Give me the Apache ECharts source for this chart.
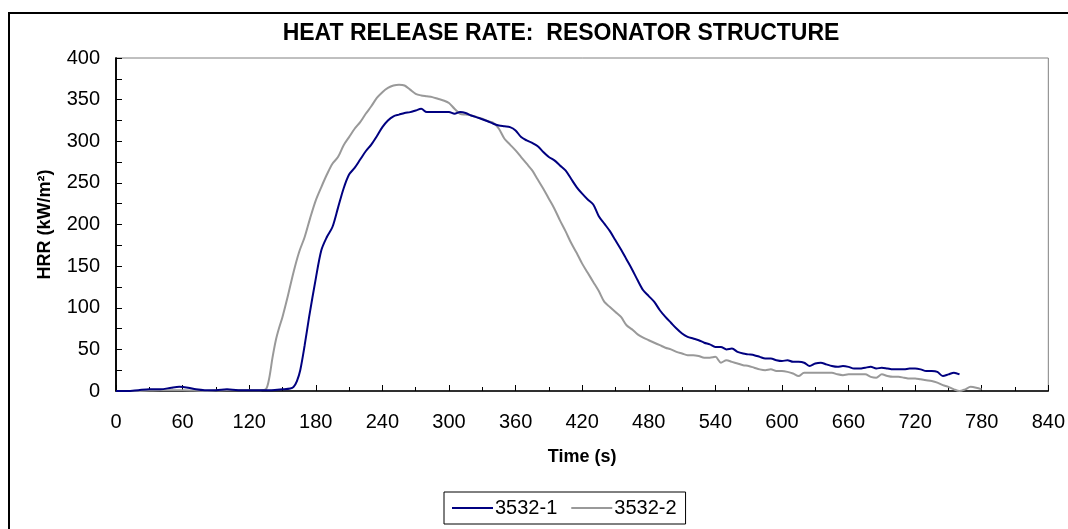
<!DOCTYPE html>
<html>
<head>
<meta charset="utf-8">
<title>Heat Release Rate</title>
<script src="https://cdn.jsdelivr.net/npm/echarts@6/dist/echarts.min.js"></script>
<style>
  html, body { margin: 0; padding: 0; background: #fff; }
  #chart { width: 1068px; height: 529px; }
</style>
</head>
<body>
<div id="chart"></div>
<script>
// Test 3532-1: time (s) and heat release rate (kW/m²)
const time1 = [0, 10, 20, 30, 40, 50, 57, 65, 72, 80, 90, 100, 110, 120, 130, 140, 150, 157, 160, 163, 166, 170, 174, 180, 185, 190, 195, 200, 205, 210, 215, 220, 225, 230, 235, 240, 245, 250, 255, 260, 265, 270, 275, 280, 290, 300, 305, 310, 315, 320, 327, 335, 340, 345, 350, 355, 360, 365, 370, 375, 380, 385, 390, 395, 400, 405, 410, 415, 420, 425, 430, 435, 440, 445, 450, 455, 460, 465, 470, 475, 480, 485, 490, 495, 500, 505, 510, 515, 520, 525, 530, 535, 540, 545, 550, 555, 560, 565, 570, 575, 580, 585, 590, 595, 600, 605, 610, 615, 620, 625, 630, 635, 640, 645, 650, 655, 660, 665, 670, 675, 680, 685, 690, 695, 700, 705, 710, 715, 720, 725, 730, 735, 740, 745, 750, 755, 760];
const hrr1 = [0, 0, 1, 2, 2, 4, 5, 4, 2, 1, 1, 2, 1, 1, 1, 1, 2, 3, 5, 12, 25, 55, 89, 135, 169, 185, 197, 220, 243, 260, 268, 278, 288, 296, 306, 317, 325, 330, 332, 334, 335, 337, 339, 335, 335, 335, 333, 335, 334, 331, 328, 324, 321, 319, 318, 317, 313, 305, 301, 298, 294, 287, 281, 277, 271, 265, 255, 245, 237, 230, 224, 210, 201, 192, 181, 170, 158, 146, 133, 121, 114, 107, 97, 89, 82, 75, 69, 65, 63, 61, 58, 56, 53, 53, 50, 51, 47, 45, 44, 43, 41, 39, 39, 37, 36, 37, 35, 35, 34, 30, 33, 34, 32, 30, 29, 30, 29, 27, 27, 28, 29, 27, 28, 27, 26, 26, 26, 27, 27, 26, 24, 24, 23, 18, 20, 22, 20];

// Test 3532-2
const time2 = [0, 20, 40, 60, 80, 100, 120, 130, 135, 138, 141, 144, 147, 150, 155, 160, 165, 170, 175, 180, 185, 190, 195, 200, 205, 210, 215, 220, 225, 230, 235, 240, 245, 250, 255, 260, 265, 270, 275, 280, 285, 290, 295, 300, 305, 310, 315, 320, 325, 330, 335, 340, 345, 350, 355, 360, 365, 370, 375, 380, 385, 390, 395, 400, 405, 410, 415, 420, 425, 430, 435, 440, 445, 450, 455, 460, 465, 470, 475, 480, 485, 490, 495, 500, 505, 510, 515, 520, 525, 530, 535, 540, 545, 550, 555, 560, 565, 570, 575, 580, 585, 590, 595, 600, 605, 610, 615, 620, 625, 630, 640, 645, 650, 655, 660, 665, 670, 675, 680, 685, 690, 695, 700, 705, 710, 715, 720, 725, 730, 735, 740, 745, 750, 755, 760, 765, 770, 775, 780];
const hrr2 = [0, 0, 1, 1, 0, 1, 1, 1, 2, 15, 40, 61, 76, 89, 115, 143, 167, 185, 208, 229, 245, 260, 273, 281, 295, 305, 315, 323, 333, 342, 352, 359, 364, 367, 368, 367, 362, 357, 355, 354, 353, 351, 349, 346, 339, 333, 332, 331, 329, 327, 324, 322, 315, 303, 296, 289, 281, 273, 265, 254, 243, 231, 219, 205, 192, 178, 166, 153, 142, 131, 120, 107, 101, 95, 89, 79, 74, 68, 64, 61, 58, 55, 52, 50, 47, 45, 43, 43, 42, 40, 40, 41, 34, 37, 35, 33, 31, 30, 28, 26, 25, 26, 24, 24, 23, 21, 18, 22, 22, 22, 22, 22, 20, 19, 20, 20, 20, 20, 17, 16, 20, 18, 17, 17, 16, 15, 15, 14, 13, 12, 10, 7, 5, 2, 0, 2, 5, 4, 2];

const seriesNames = ['3532-1', '3532-2'];
const seriesColors = ['#000080', '#999999'];

const pairs = (xs, ys) => xs.map((x, i) => [x, ys[i]]);

const chart = echarts.init(document.getElementById('chart'), null, { renderer: 'canvas' });

const font = 'Arial, "Liberation Sans", sans-serif';

chart.setOption({
  backgroundColor: '#ffffff',
  animation: false,
  textStyle: { fontFamily: font, color: '#000' },
  title: {
    text: 'HEAT RELEASE RATE:  RESONATOR STRUCTURE',
    left: 561,
    textAlign: 'center',
    top: 22,
    padding: 0,
    textStyle: { fontFamily: font, fontSize: 23, fontWeight: 'bold', color: '#000' }
  },
  legend: {
    data: seriesNames,
    left: 444,
    top: 492,
    padding: [6, 9, 6, 8],
    icon: 'rect',
    itemWidth: 41,
    itemHeight: 2,
    itemGap: 14,
    borderColor: '#000',
    borderWidth: 1,
    textStyle: { fontFamily: font, fontSize: 20, lineHeight: 20, color: '#000', padding: [0, 0, 0, -3] }
  },
  grid: {
    left: 116,
    right: 18,
    top: 58,
    bottom: 138,
    show: true,
    borderColor: '#808080',
    borderWidth: 1,
    backgroundColor: '#ffffff'
  },
  xAxis: {
    type: 'value',
    min: 0,
    max: 840,
    interval: 60,
    name: 'Time (s)',
    nameLocation: 'middle',
    nameGap: 57,
    nameTextStyle: { fontFamily: font, fontSize: 18, fontWeight: 'bold', color: '#000' },
    axisLine: { show: true, onZero: false, lineStyle: { color: '#000', width: 1.5 } },
    axisTick: { show: true, inside: true, length: 6, lineStyle: { color: '#000', width: 1 } },
    minorTick: { show: true, splitNumber: 2, length: 4, lineStyle: { color: '#000', width: 1 } },
    axisLabel: { margin: 21, fontFamily: font, fontSize: 20, color: '#000' },
    splitLine: { show: false }
  },
  yAxis: [{
    type: 'value',
    min: 0,
    max: 400,
    interval: 50,
    name: 'HRR (kW/m²)',
    nameLocation: 'middle',
    nameRotate: 90,
    nameGap: 62,
    nameTextStyle: { fontFamily: font, fontSize: 18, fontWeight: 'bold', color: '#000' },
    axisLine: { show: true, onZero: false, lineStyle: { color: '#000', width: 1.5 } },
    axisTick: { show: true, inside: true, length: 6, lineStyle: { color: '#000', width: 1 } },
    minorTick: { show: true, splitNumber: 2, length: 6, lineStyle: { color: '#000', width: 1 } },
    axisLabel: { margin: 16, fontFamily: font, fontSize: 20, color: '#000' },
    splitLine: { show: false }
  }, {
    type: 'value',
    position: 'right',
    min: 0,
    max: 400,
    interval: 50,
    axisLine: { show: true, lineStyle: { color: '#000', width: 1.5 } },
    axisTick: { show: false },
    axisLabel: { show: false },
    splitLine: { show: false }
  }],
  series: [
    {
      name: seriesNames[0],
      type: 'line',
      data: pairs(time1, hrr1),
      showSymbol: false,
      symbol: 'none',
      smooth: 0.3,
      color: seriesColors[0],
      lineStyle: { color: seriesColors[0], width: 2 },
      z: 3
    },
    {
      name: seriesNames[1],
      type: 'line',
      data: pairs(time2, hrr2),
      showSymbol: false,
      symbol: 'none',
      smooth: 0.3,
      color: seriesColors[1],
      lineStyle: { color: seriesColors[1], width: 2 },
      z: 2
    }
  ],
  graphic: [{
    type: 'rect',
    silent: true,
    shape: { x: 9, y: 13, width: 1100, height: 600 },
    style: { fill: 'none', stroke: '#000', lineWidth: 2 }
  }]
});
</script>
</body>
</html>
